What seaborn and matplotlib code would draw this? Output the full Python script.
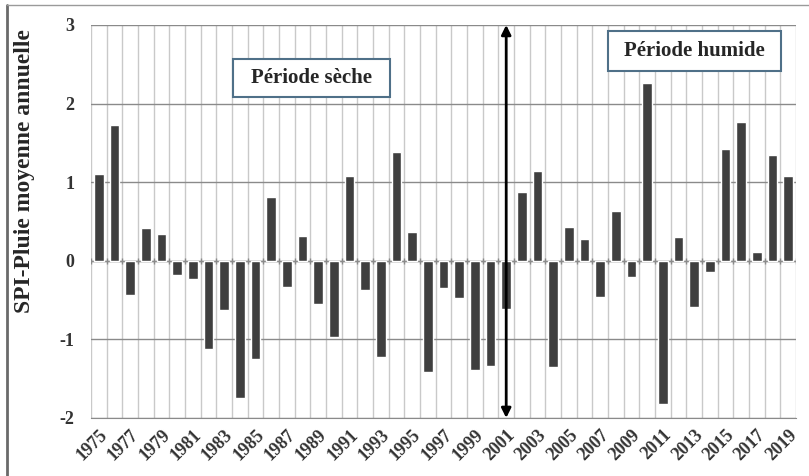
import matplotlib
matplotlib.use("Agg")
import numpy as np
import pandas as pd
import seaborn as sns
import matplotlib.pyplot as plt
from matplotlib.lines import Line2D
from matplotlib.patches import Rectangle

# data
years = list(range(1975, 2020))
spi = [1.10, 1.73, -0.44, 0.42, 0.34, -0.18, -0.23, -1.12, -0.63, -1.75,
       -1.25, 0.81, -0.34, 0.31, -0.55, -0.97, 1.08, -0.37, -1.23, 1.39,
       0.36, -1.41, -0.35, -0.47, -1.39, -1.34, -0.62, 0.87, 1.14, -1.35,
       0.43, 0.28, -0.46, 0.63, -0.21, 2.26, -1.82, 0.30, -0.59, -0.14,
       1.42, 1.76, 0.11, 1.34, 1.08]
y_ticks = [-2, -1, 0, 1, 2, 3]
split_year = 2001

df = pd.DataFrame({"annee": [str(y) for y in years], "spi": spi})

sns.set_style("white")
plt.rcParams['font.family'] = ['Liberation Serif', 'DejaVu Serif']
plt.rcParams['font.weight'] = 'bold'

fig = plt.figure(figsize=(8.09, 4.76), dpi=100)
ax = fig.add_axes([0.1125, 0.122, 0.8715, 0.8255])

sns.barplot(data=df, x="annee", y="spi", color="#3f3f3f", width=0.62,
            saturation=1, ax=ax, zorder=3)

n = len(years)
ax.set_xlim(-0.5, n - 0.5)
ax.set_ylim(-2, 3)
ax.set_yticks(y_ticks)
ax.set_yticklabels([str(t) for t in y_ticks], fontsize=13, fontweight='bold', color='#333333')

ax.set_xticks(range(0, n, 2))
ax.set_xticklabels([str(y) for y in years[::2]], rotation=45, ha='right',
                   rotation_mode='anchor', fontsize=13, fontweight='bold', color='#333333')
ax.set_xticks(np.arange(-0.5, n, 1), minor=True)
ax.tick_params(axis='x', which='both', length=0, pad=6)
ax.tick_params(axis='y', length=8, color='#8a8a8a', width=1, pad=4)

ax.grid(axis='y', which='major', color='#8a8a8a', lw=1, zorder=1)
ax.grid(axis='x', which='minor', color='#c9c9c9', lw=1, zorder=1)
ax.grid(axis='x', which='major', visible=False)
for s in ['top', 'right', 'left']:
    ax.spines[s].set_visible(False)
ax.spines['bottom'].set_color('#8a8a8a')
ax.axhline(0, color='#8a8a8a', lw=1, zorder=2)
ax.vlines(np.arange(-0.5, n, 1), -0.04, 0.04, color='#8a8a8a', lw=1, zorder=2)

ax.set_xlabel("")
ax.set_ylabel("SPI-Pluie moyenne annuelle", fontsize=17, fontweight='bold')
ax.yaxis.set_label_coords(-0.08, 0.628)

# double arrow at the break year
xi = years.index(split_year)
ax.annotate("", xy=(xi, -2), xytext=(xi, 3),
            arrowprops=dict(arrowstyle='<|-|>', color='black', lw=2,
                            mutation_scale=14, shrinkA=0, shrinkB=0), zorder=5)

# period boxes
box_col = '#4f7088'
ax.add_patch(Rectangle((8.57, 2.09), 10.0, 0.48, facecolor='white',
                       edgecolor=box_col, lw=1.5, zorder=4))
ax.text(13.57, 2.33, "Période sèche", ha='center', va='center',
        fontsize=15, fontweight='bold', zorder=5)
ax.add_patch(Rectangle((32.5, 2.42), 11.06, 0.50, facecolor='white',
                       edgecolor=box_col, lw=1.5, zorder=4))
ax.text(38.03, 2.67, "Période humide", ha='center', va='center',
        fontsize=15, fontweight='bold', zorder=5)

# outer frame (left and top visible)
fig.add_artist(Line2D([0.009, 0.009], [0, 0.99], transform=fig.transFigure,
                      color='#6a6a6a', lw=2))
fig.add_artist(Line2D([0.009, 1], [0.99, 0.99], transform=fig.transFigure,
                      color='#9a9a9a', lw=1))

fig.savefig("out.png", dpi=100)
